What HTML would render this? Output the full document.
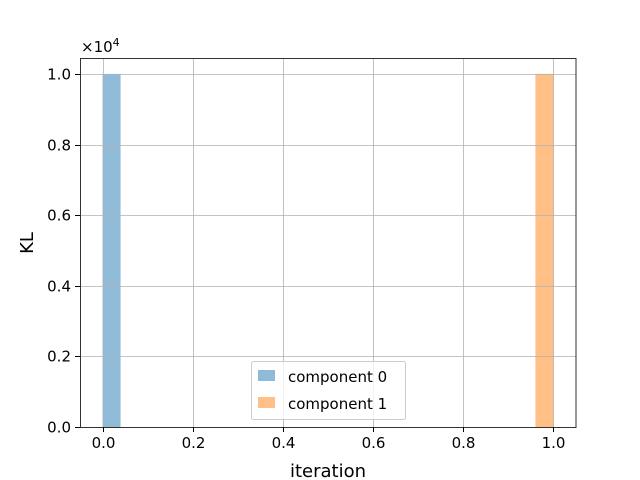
<!DOCTYPE html>
<html><head><meta charset="utf-8"><style>
html,body{margin:0;padding:0;background:#fff;}
svg{display:block;font-family:"DejaVu Sans","Liberation Sans",sans-serif;}
</style></head><body>
<svg id="chart" width="640" height="480" viewBox="0 0 640 480">
<rect width="640" height="480" fill="#fff"/>
<g id="grid"></g>
<g id="bars"></g>
<g id="gridfront"></g>
<rect x="80.5" y="58.5" width="495.5" height="369" fill="none" stroke="#333" stroke-width="1"/>
<g id="xticks"></g>
<g id="yticks"></g>
<text x="81" y="52" font-size="15">×10<tspan dy="-6" font-size="11">4</tspan></text>
<text x="328" y="477" font-size="18" text-anchor="middle">iteration</text>
<text transform="translate(33,243) rotate(-90)" font-size="18" text-anchor="middle">KL</text>
<g>
<rect x="251.5" y="361.5" width="154" height="58" rx="2" fill="#fff" fill-opacity="0.8" stroke="#ccc"/>
<rect x="258" y="370" width="17" height="11" fill="#8fbbd9"/>
<text x="288" y="382" font-size="15">component 0</text>
<rect x="258" y="397" width="17" height="11" fill="#ffbf86"/>
<text x="288" y="409" font-size="15">component 1</text>
</g>
</svg>
<script>
const seriesNames = ["component 0", "component 1"];
const binStarts = [0.0, 0.96];
const binWidth = 0.04;
const seriesValues = [10000, 10000];
const seriesColors = ["#8fbbd9", "#ffbf86"];
const xTicks = [0, 0.2, 0.4, 0.6, 0.8, 1.0];
const xTickLabels = ["0.0", "0.2", "0.4", "0.6", "0.8", "1.0"];
const yTicks = [0, 2000, 4000, 6000, 8000, 10000];
const yTickLabels = ["0.0", "0.2", "0.4", "0.6", "0.8", "1.0"];

const NS = "http://www.w3.org/2000/svg";
const X0 = 80, X1 = 576, Y0 = 427, Y1 = 58;
const xMin = -0.05, xMax = 1.05, yMin = 0, yMax = 10450;
function xs(v){ return X0 + (v - xMin) / (xMax - xMin) * (X1 - X0); }
function ys(v){ return Y0 - (v - yMin) / (yMax - yMin) * (Y0 - Y1); }
function mk(tag, attrs, parent){ const e = document.createElementNS(NS, tag); for (const k in attrs) e.setAttribute(k, attrs[k]); parent.appendChild(e); return e; }

const bars = document.getElementById("bars");
seriesValues.forEach((v, i) => {
  const x = xs(binStarts[i]), w = xs(binStarts[i] + binWidth) - x;
  const r = mk("rect", {x: x, y: ys(v), width: w, height: ys(0) - ys(v), fill: seriesColors[i]}, bars);
  
  
});
const grid = document.getElementById("gridfront");
const xg = document.getElementById("xticks");
xTicks.forEach((t, i) => {
  const x = Math.round(xs(t)) + 0.5;
  const gl = mk("line", {x1: x, x2: x, y1: Y1, y2: Y0, stroke: "#b0b0b0", "stroke-width": 0.8}, grid);
  
  
  const tk = mk("line", {x1: x, x2: x, y1: Y0, y2: Y0 + 5, stroke: "#000"}, xg);
  
  
  const lb = mk("text", {x: x, y: Y0 + 21, "font-size": 15, "text-anchor": "middle"}, xg);
  lb.textContent = xTickLabels[i];
  
  
});
const yg = document.getElementById("yticks");
yTicks.forEach((t, i) => {
  const y = Math.round(ys(t)) + 0.5;
  const gl = mk("line", {x1: X0, x2: X1, y1: y, y2: y, stroke: "#b0b0b0", "stroke-width": 0.8}, grid);
  
  
  const tk = mk("line", {x1: X0 - 5, x2: X0, y1: y, y2: y, stroke: "#000"}, yg);
  
  
  const lb = mk("text", {x: X0 - 9, y: y + 5, "font-size": 15, "text-anchor": "end"}, yg);
  lb.textContent = yTickLabels[i];
  
  
});
</script>
</body></html>
